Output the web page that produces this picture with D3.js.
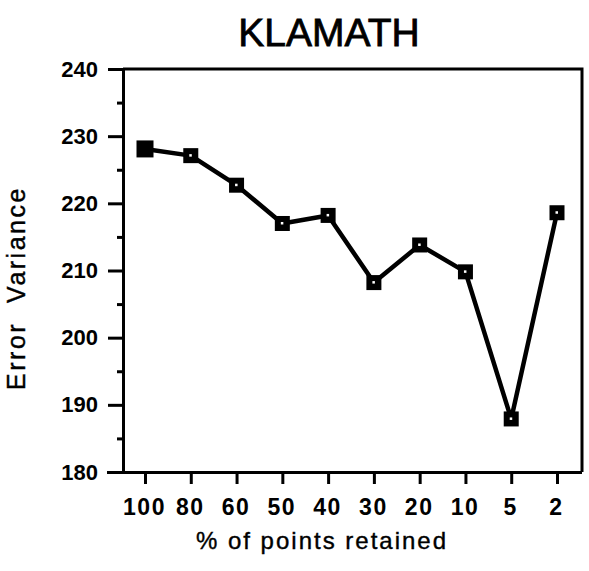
<!DOCTYPE html>
<html>
<head>
<meta charset="utf-8">
<script src="https://cdn.jsdelivr.net/npm/d3@7"></script>
<style>
  html, body { margin: 0; padding: 0; background: #fff; }
  svg { display: block; }
  text { font-family: "Liberation Sans", Arial, Helvetica, sans-serif; fill: #000; }
</style>
</head>
<body>
<svg id="chart" width="589" height="571"></svg>
<script>
// ---- data ----
const categories = ["100", "80", "60", "50", "40", "30", "20", "10", "5", "2"];
const errorVariance = [228.1, 227.1, 222.7, 217.0, 218.2, 208.2, 213.8, 209.8, 187.9, 218.6];
const yMajorTicks = [180, 190, 200, 210, 220, 230, 240];
const yMinorTicks = [185, 195, 205, 215, 225, 235];
const titleText = "KLAMATH";
const xTitle = "% of points retained";
const yTitle = "Error  Variance";

// ---- layout ----
const svg = d3.select("#chart");
const frame = { left: 123, right: 582, top: 69, bottom: 472 };

const x = d3.scalePoint().domain(categories).range([145, 557]).padding(0);
const y = d3.scaleLinear().domain([180, 240]).range([frame.bottom, frame.top]);

// frame (top and right sides)
svg.append("path")
  .attr("d", `M${frame.left},${frame.top} H${frame.right} V${frame.bottom}`)
  .attr("fill", "none").attr("stroke", "#000").attr("stroke-width", 3);

// y axis major
const yAxis = svg.append("g")
  .attr("transform", `translate(${frame.left},0)`)
  .call(d3.axisLeft(y).tickValues(yMajorTicks).tickSize(15).tickPadding(10).tickSizeOuter(0));
yAxis.select(".domain").attr("stroke-width", 3);
yAxis.selectAll(".tick line").attr("stroke-width", 3);
yAxis.selectAll(".tick text")
  .style("font-size", "22px").style("font-weight", "bold");

// y axis minor
const yMinor = svg.append("g")
  .attr("transform", `translate(${frame.left},0)`)
  .call(d3.axisLeft(y).tickValues(yMinorTicks).tickSize(6).tickFormat(""));
yMinor.select(".domain").remove();
yMinor.selectAll(".tick line").attr("stroke-width", 3);

// x axis
const xAxis = svg.append("g")
  .attr("transform", `translate(0,${frame.bottom})`)
  .call(d3.axisBottom(x).tickSize(12).tickPadding(15).tickSizeOuter(0));
xAxis.select(".domain").attr("d", `M${frame.left - 16},0.5H${frame.right}`).attr("stroke-width", 3);
xAxis.selectAll(".tick line").attr("stroke-width", 3);
xAxis.selectAll(".tick text")
  .style("font-size", "23px").style("font-weight", "bold")
  .style("letter-spacing", "1.5px")
  .attr("dx", "-1px");

// line
const line = d3.line()
  .x((d, i) => x(categories[i]))
  .y(d => y(d));
svg.append("path")
  .datum(errorVariance)
  .attr("d", line)
  .attr("fill", "none")
  .attr("stroke", "#000")
  .attr("stroke-width", 4.5)
  .attr("stroke-linejoin", "round");

// markers
const mk = svg.append("g").selectAll("g")
  .data(errorVariance)
  .join("g")
  .attr("transform", (d, i) => `translate(${x(categories[i])},${y(d)})`);
mk.append("rect")
  .attr("x", (d, i) => i === 0 ? -8.5 : -7.5)
  .attr("y", (d, i) => i === 0 ? -8.5 : -7.5)
  .attr("width", (d, i) => i === 0 ? 17 : 15)
  .attr("height", (d, i) => i === 0 ? 17 : 15)
  .attr("fill", "#000");
mk.filter((d, i) => i > 0).append("rect")
  .attr("x", -1.5).attr("y", -1.5).attr("width", 2.5).attr("height", 2.5)
  .attr("fill", "#fff");

// title
svg.append("text")
  .attr("x", 329).attr("y", 46)
  .attr("text-anchor", "middle")
  .style("font-size", "39px")
  .attr("stroke", "#000").attr("stroke-width", 0.8)
  .text(titleText);

// x title
svg.append("text")
  .attr("x", 322).attr("y", 549)
  .attr("text-anchor", "middle")
  .style("font-size", "24px")
  .style("letter-spacing", "2px")
  .attr("stroke", "#000").attr("stroke-width", 0.4)
  .text(xTitle);

// y title
svg.append("text")
  .attr("transform", "translate(25,288) rotate(-90)")
  .attr("text-anchor", "middle")
  .style("font-size", "25px")
  .style("white-space", "pre")
  .style("letter-spacing", "2.5px")
  .attr("stroke", "#000").attr("stroke-width", 0.4)
  .text(yTitle);
</script>
</body>
</html>
